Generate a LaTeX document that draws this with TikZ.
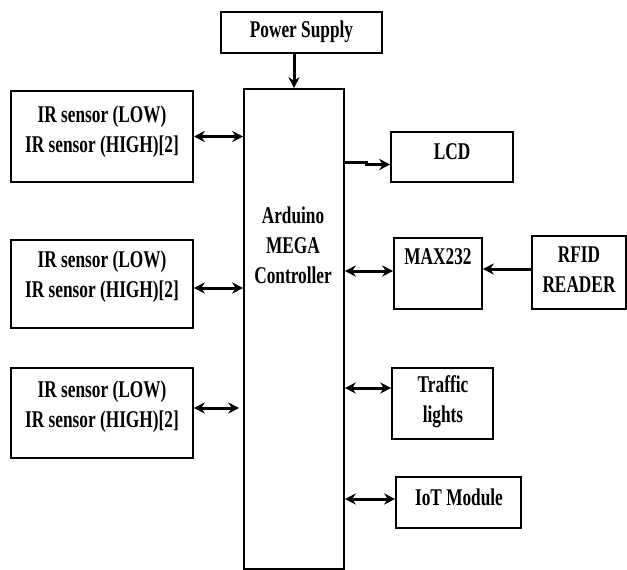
\documentclass[tikz,border=0pt]{standalone}
\usepackage{fontspec}
\setmainfont{Liberation Serif}[FakeStretch=0.72]
\usetikzlibrary{arrows.meta,calc}
\begin{document}
\begin{tikzpicture}[x=1pt,y=-1pt,
  box/.style={draw, line width=1.6pt, inner sep=0pt},
  lbl/.style={align=center, font=\fontsize{24}{30}\selectfont\bfseries, inner sep=0pt},
  conn/.style={line width=3pt, -{Stealth[length=11pt,width=11pt]}},
  dconn/.style={line width=3pt, {Stealth[length=11pt,width=11pt]}-{Stealth[length=11pt,width=11pt]}}]
\useasboundingbox[fill=white] (0,0) rectangle (627,570);
% boxes
\node[box, minimum width=161pt, minimum height=41pt] (ps) at (301.5,32.5) {};
\node[box, minimum width=100pt, minimum height=480pt] (ard) at (294,329) {};
\node[box, minimum width=182pt, minimum height=91pt] (ir1) at (102,136.5) {};
\node[box, minimum width=182pt, minimum height=88pt] (ir2) at (102,284) {};
\node[box, minimum width=182pt, minimum height=90pt] (ir3) at (102,413) {};
\node[box, minimum width=122pt, minimum height=50pt] (lcd) at (452,157) {};
\node[box, minimum width=88pt, minimum height=71pt] (max) at (438,273.5) {};
\node[box, minimum width=94pt, minimum height=73pt] (rfid) at (579,272.5) {};
\node[box, minimum width=101pt, minimum height=71pt] (traffic) at (442.5,403.5) {};
\node[box, minimum width=125pt, minimum height=51pt] (iot) at (458.5,502.5) {};
% labels
\node[lbl] (pst) at (301.5,32) {Power Supply};
\node[lbl] (ardt) at (293,245) {Arduino\\MEGA\\Controller};
\node[lbl] (ir1t) at (102,132) {IR sensor (LOW)\\IR sensor (HIGH)[2]};
\node[lbl] (ir2t) at (102,277) {IR sensor (LOW)\\IR sensor (HIGH)[2]};
\node[lbl] (ir3t) at (102,407) {IR sensor (LOW)\\IR sensor (HIGH)[2]};
\node[lbl] (lcdt) at (452,152) {LCD};
\node[lbl] (maxt) at (438,257) {MAX232};
\node[lbl] (rfidt) at (579,270) {RFID\\READER};
\node[lbl] (traffict) at (443,402) {Traffic\\lights};
\node[lbl] (iott) at (459,497) {IoT Module};
% connectors
\draw[conn] (ps.south -| ard.north) -- (ard.north);
\draw[dconn] (ir1.east) -- (ir1.east -| ard.west);
\draw[dconn] ($(ir2.east)+(0,4)$) -- ($(ir2.east -| ard.west)+(0,4)$);
\coordinate (ir3end) at ($(ir3.east -| ard.west)+(-4,-5)$);
\draw[dconn] ($(ir3.east)+(0,-5)$) -- (ir3end);
\coordinate (lcdjog) at ($(ard.east |- lcd.west)+(22,5)$);
\draw[conn] ($(ard.east |- lcd.west)+(0,5)$) -- (lcdjog) -- ++(0,2.5) -- ($(lcd.west)+(0,7.5)$);
\draw[dconn] ($(ard.east |- max.west)+(0,-2.5)$) -- ($(max.west)+(0,-2.5)$);
\draw[conn] ($(rfid.west)+(0,-3.5)$) -- ($(rfid.west -| max.east)+(0,-3.5)$);
\draw[dconn] ($(ard.east |- traffic.west)+(0,-15.5)$) -- ($(traffic.west)+(0,-15.5)$);
\draw[dconn] ($(ard.east |- iot.west)+(0,-3.5)$) -- ($(iot.west)+(0,-3.5)$);
\end{tikzpicture}
\end{document}
